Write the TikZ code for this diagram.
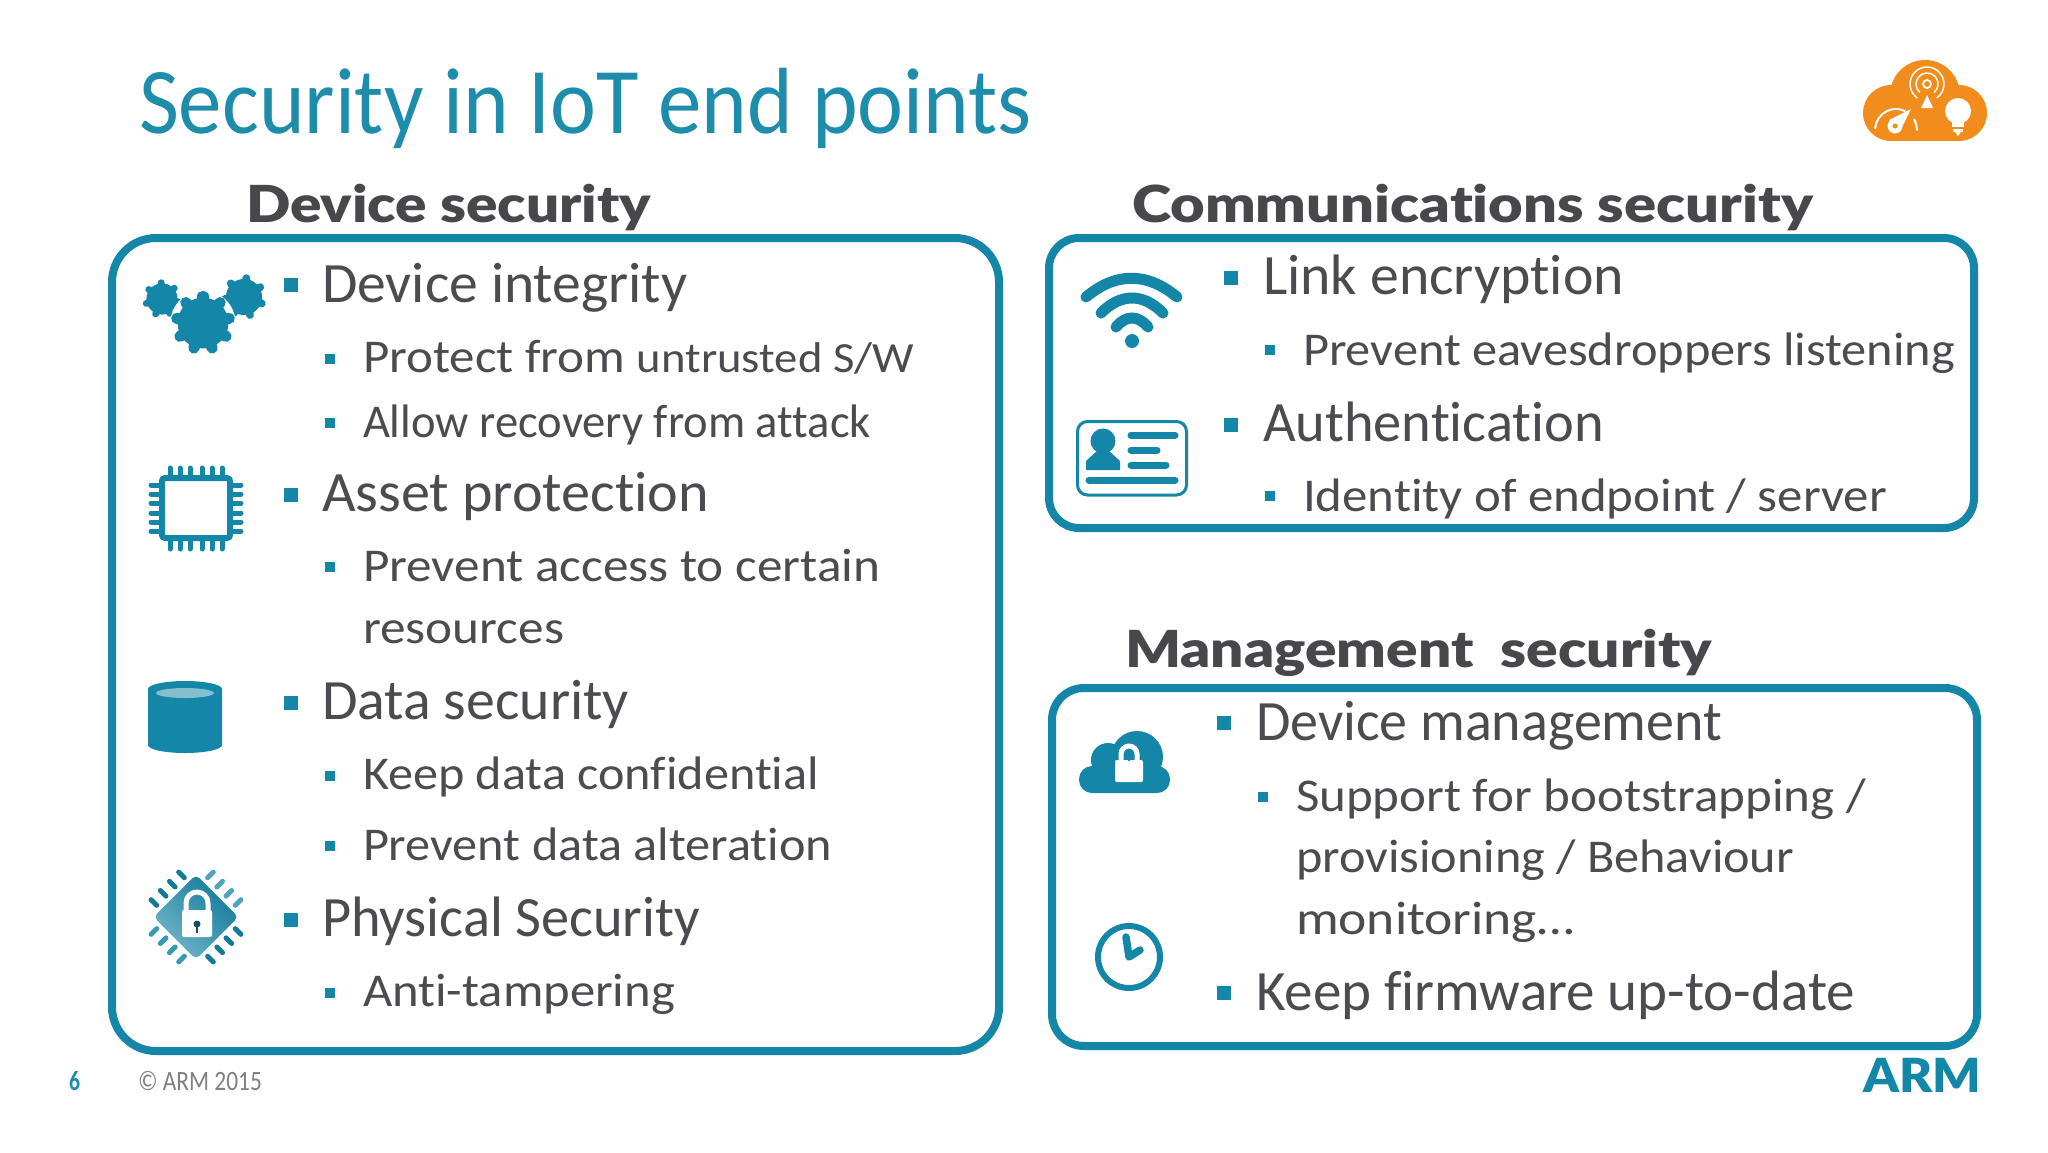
\documentclass[tikz,border=0pt]{standalone}
\usepackage{fontspec}
\usepackage{graphicx}
\setmainfont{Carlito}[Ligatures=NoCommon]
\newfontfamily\headfont{Lato Black}[Ligatures=NoCommon]
\usetikzlibrary{shapes.geometric}
\definecolor{teal}{HTML}{1487A9}
\definecolor{titleteal}{HTML}{1E8CAB}
\definecolor{ink}{HTML}{4B4B50}
\definecolor{headink}{HTML}{48484C}
\definecolor{footgrey}{HTML}{808083}
\definecolor{orangeic}{HTML}{F28C1C}
\definecolor{pale}{HTML}{84BFD0}
\newcommand{\fitw}[2]{\resizebox{#1pt}{\height}{#2}}
\newcommand{\gearicon}[5]{%
  \begin{scope}[shift={(#1,#2)}]
    \fill[white] (0,0) circle[radius=#3+1.5];
    \fill[teal] (0,0) circle[radius=#3*0.82];
    \foreach \k in {1,...,#4}
      \draw[teal,line width=#3*0.36pt,line cap=round] ({#5+360/#4*\k}:#3*0.6) -- ({#5+360/#4*\k}:#3*0.86);
  \end{scope}}
\tikzset{
  x=1pt,y=-1pt,
  panel/.style={draw=teal,line width=8pt,fill=white},
  txt/.style={anchor=base west,inner sep=0pt,outer sep=0pt,text=ink},
  lone/.style={txt,font=\fontsize{57}{57}\selectfont},
  ltwo/.style={txt,yshift=2pt,font=\fontsize{47}{47}\selectfont},
  heading/.style={txt,text=headink,font=\headfont\fontsize{51}{51}\selectfont},
  bone/.style={fill=teal,minimum size=13.5pt,inner sep=0pt,outer sep=0pt,anchor=center},
  btwo/.style={fill=teal,minimum size=10.5pt,inner sep=0pt,outer sep=0pt,anchor=center},
  ic/.style={fill=teal,draw=none},
  icl/.style={draw=teal,line cap=round},
}
\begin{document}
\begin{tikzpicture}
\useasboundingbox (0,0) rectangle (2048,1152);
\fill[white] (0,0) rectangle (2048,1152);
% title and headings
\node[txt,text=titleteal,font=\fontsize{94}{94}\selectfont] (title) at (139,133) {\fitw{893}{Security in IoT end points}};
\node[heading] (h1) at (246,222) {\fitw{405}{Device security}};
\node[heading] (h2) at (1132,222) {\fitw{681}{Communications security}};
\node[heading] (h3) at (1125,667) {\fitw{587}{Management\ \ security}};
% panels
\draw[panel,rounded corners=44pt] (112,238) rectangle (999,1051);
\draw[panel,rounded corners=30pt] (1049,238) rectangle (1974,528);
\draw[panel,rounded corners=32pt] (1052,688) rectangle (1977,1046);
% left text
\node[bone] (b1) at (291,285) {};
\node[lone] (t1) at (322,302) {\fitw{365}{Device integrity}};
\node[btwo] (b2) at (330,359) {};
\node[ltwo] (t2) at (363,374) {\fitw{551}{Protect from {\fontsize{43}{43}\selectfont untrusted S/W}}};
\node[btwo] (b3) at (330,423) {};
\node[ltwo] (t3) at (363,439) {\fitw{508}{Allow recovery from attack}};
\node[bone] (b4) at (291,495) {};
\node[lone] (t4) at (322,511) {\fitw{387}{Asset protection}};
\node[btwo] (b5) at (330,567) {};
\node[ltwo] (t5) at (363,583) {\fitw{517}{Prevent access to certain}};
\node[ltwo] (t6) at (363,645) {\fitw{201}{resources}};
\node[bone] (b7) at (291,703) {};
\node[lone] (t7) at (322,719) {\fitw{307}{Data security}};
\node[btwo] (b8) at (330,776) {};
\node[ltwo] (t8) at (363,791) {\fitw{456}{Keep data confidential}};
\node[btwo] (b9) at (330,846) {};
\node[ltwo] (t9) at (363,862) {\fitw{469}{Prevent data alteration}};
\node[bone] (b10) at (291,920) {};
\node[lone] (t10) at (322,936) {\fitw{378}{Physical Security}};
\node[btwo] (b11) at (330,993) {};
\node[ltwo] (t11) at (363,1008) {\fitw{312}{Anti-tampering}};
% comm text
\node[bone] (c1) at (1231,278) {};
\node[lone] (d1) at (1263,294) {\fitw{361}{Link encryption}};
\node[btwo] (c2) at (1270,350) {};
\node[ltwo] (d2) at (1303,367) {\fitw{652}{Prevent eavesdroppers listening}};
\node[bone] (c3) at (1231,425) {};
\node[lone] (d3) at (1263,441) {\fitw{341}{Authentication}};
\node[btwo] (c4) at (1270,496) {};
\node[ltwo] (d4) at (1303,513) {\fitw{584}{Identity of endpoint / server}};
% mgmt text
\node[bone] (m1) at (1224,723) {};
\node[lone] (n1) at (1256,740) {\fitw{466}{Device management}};
\node[btwo] (m2) at (1263,797) {};
\node[ltwo] (n2) at (1296,813) {\fitw{570}{Support for bootstrapping /}};
\node[ltwo] (n3) at (1296,874) {\fitw{498}{provisioning / Behaviour}};
\node[ltwo] (n4) at (1296,936) {\fitw{278}{monitoring…}};
\node[bone] (m5) at (1224,993) {};
\node[lone] (n5) at (1256,1010) {\fitw{599}{Keep firmware up-to-date}};
% footer
\node[txt,text=titleteal,font=\fontsize{28}{28}\selectfont\bfseries] (pg) at (69,1090) {\fitw{11}{6}};
\node[txt,text=footgrey,font=\fontsize{28}{28}\selectfont] (cp) at (138,1090) {\fitw{124}{© ARM 2015}};
\node[txt,text=teal,font=\headfont\fontsize{47}{47}\selectfont] (arm) at (1863,1092) {\fitw{118}{ARM}};
% gears
\gearicon{162}{299}{19}{7}{10}
\gearicon{244}{297}{22}{7}{20}
\gearicon{203}{323}{31}{9}{-90}
% chip
\foreach \px in {170,180,190,202,212,222} {
  \draw[icl,line width=5pt] (\px,468) -- (\px,480);
  \draw[icl,line width=5pt] (\px,538) -- (\px,549);}
\foreach \py in {485,494,503,513,522,531} {
  \draw[icl,line width=5pt] (151,\py) -- (162,\py);
  \draw[icl,line width=5pt] (230,\py) -- (241,\py);}
\draw[draw=teal,fill=white,line width=6pt,rounded corners=3pt] (162,478) rectangle (230,538);
% cylinder
\fill[teal] (148,689) -- (148,745) arc[start angle=180,end angle=0,x radius=37,y radius=8] -- (222,689) arc[start angle=0,end angle=-180,x radius=37,y radius=8] -- cycle;
\fill[pale] (185,693) ellipse[x radius=29,y radius=5];
% physical security chip
\begin{scope}[shift={(196,917)},rotate=45]
  \foreach \o in {-19.5,-6.5,6.5,19.5} {
    \draw[draw=teal!90!black,line width=5pt,line cap=round] (\o,-36) -- (\o,-44);
    \draw[draw=teal!90!black,line width=5pt,line cap=round] (\o,36) -- (\o,44);
    \draw[draw=teal!85!white,line width=5pt,line cap=round] (-36,\o) -- (-44,\o);
    \draw[draw=teal!75!white,line width=5pt,line cap=round] (36,\o) -- (44,\o);}
  \path[rounded corners=5pt,left color=teal!90!black,right color=teal!60!white,shading angle=-45] (-30,-30) rectangle (30,30);
\end{scope}
\draw[draw=white,line width=5pt] (186,912) -- (186,903) arc[start angle=180,end angle=360,radius=11] -- (208,912);
\fill[white,rounded corners=2pt] (182,910) rectangle (212,937);
\fill[teal!60!black] (197,924) circle[radius=3.5];
\fill[teal!60!black] (195.8,925) rectangle (198.2,933);
% wifi
\draw[icl,line width=11pt] (1086,297) .. controls (1116,272) and (1147,272) .. (1177,297);
\draw[icl,line width=11pt] (1101,313) .. controls (1121,293) and (1143,293) .. (1163,313);
\draw[icl,line width=11pt] (1116,327) .. controls (1126,315) and (1138,315) .. (1148,327);
\fill[teal] (1132,341) circle[radius=7];
% ID card
\draw[draw=teal,line width=3pt,rounded corners=10pt] (1077.5,421.5) rectangle (1186.5,495);
\fill[teal] (1103,441) circle[radius=12.5];
\fill[teal] (1086,470) -- (1086,461) -- (1098,450) -- (1108,450) -- (1120,461) -- (1120,470) -- cycle;
\draw[icl,line width=7pt] (1131,435) -- (1175,435);
\draw[icl,line width=7pt] (1131,450) -- (1157,450);
\draw[icl,line width=7pt] (1131,465) -- (1166,465);
\draw[icl,line width=7pt] (1089,480) -- (1175,480);
% cloud lock
\fill[teal] (1137,757) circle[radius=26];
\fill[teal] (1108,760) circle[radius=17];
\fill[teal,rounded corners=13pt] (1079,766) rectangle (1170,793);
\draw[draw=white,line width=5pt] (1121,762) -- (1121,754) arc[start angle=180,end angle=360,radius=8] -- (1137,762);
\fill[white,rounded corners=2pt] (1115,760) rectangle (1143,782);
\fill[teal] (1129,758) ellipse[x radius=1.3,y radius=3.5];
% clock
\draw[draw=teal,line width=6pt] (1129,957) circle[radius=31];
\draw[icl,line width=7.5pt,line join=round] (1126,937) -- (1129,957) -- (1140,950);
% orange cloud
\fill[orangeic] (1925,95) circle[radius=35];
\fill[orangeic] (1891,113) circle[radius=28];
\fill[orangeic] (1959,113) circle[radius=28];
\fill[orangeic] (1891,105) rectangle (1959,141);
\draw[white,line width=1.8pt] (1927,84) circle[radius=4];
\draw[white,line width=1.5pt] (1927,84) ++(130:11) arc[start angle=130,end angle=410,radius=11];
\draw[white,line width=1.5pt] (1927,84) ++(125:17) arc[start angle=125,end angle=415,radius=17];
\fill[white] (1927,95) -- (1933,108) -- (1921,108) -- cycle;
\draw[white,line width=2pt,line cap=round] (1896,130) ++(185:21) arc[start angle=185,end angle=295,radius=21];
\draw[white,line width=2pt,line cap=round] (1896,130) ++(330:21) arc[start angle=330,end angle=360,radius=21];
\fill[white] (1889,120) -- (1911,109) -- (1900,131) -- cycle;
\fill[white] (1895,126) circle[radius=7.5];
\fill[orangeic] (1895,126) circle[radius=2.5];
\fill[white] (1958,111) circle[radius=13];
\fill[white] (1952,118) rectangle (1964,127);
\draw[orangeic,line width=1pt] (1953,128) -- (1963,128);
\fill[white] (1953,129) rectangle (1963,132);
\fill[white] (1955,132) -- (1961,132) -- (1958,136) -- cycle;
\end{tikzpicture}
\end{document}
